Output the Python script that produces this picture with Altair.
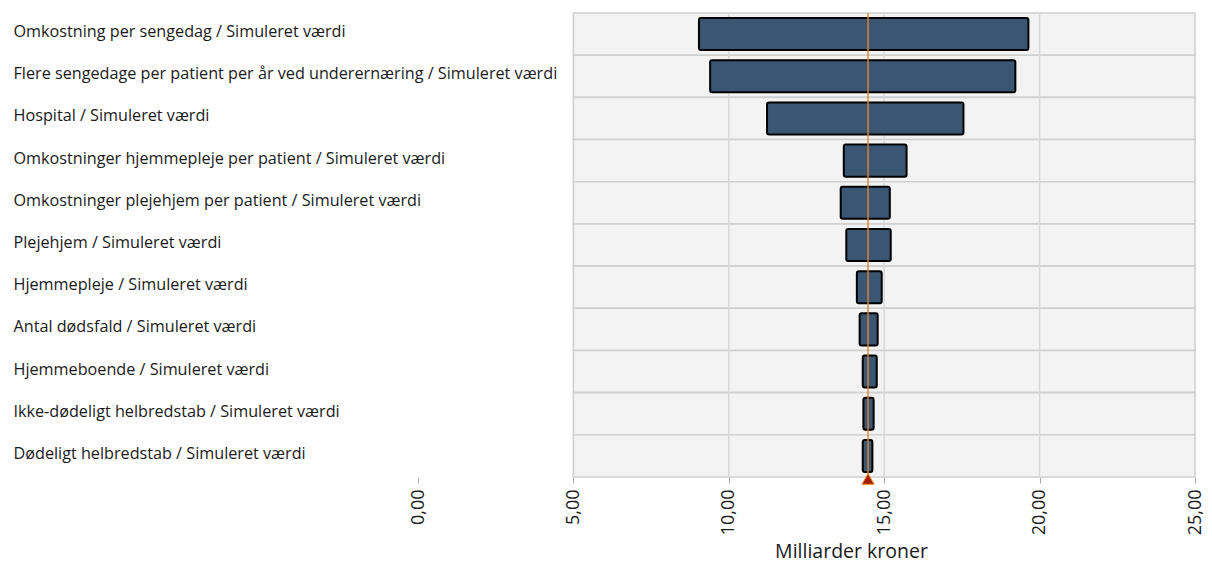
import altair as alt
import pandas as pd

categories = [
    "Omkostning per sengedag / Simuleret værdi",
    "Flere sengedage per patient per år ved underernæring / Simuleret værdi",
    "Hospital / Simuleret værdi",
    "Omkostninger hjemmepleje per patient / Simuleret værdi",
    "Omkostninger plejehjem per patient / Simuleret værdi",
    "Plejehjem / Simuleret værdi",
    "Hjemmepleje / Simuleret værdi",
    "Antal dødsfald / Simuleret værdi",
    "Hjemmeboende / Simuleret værdi",
    "Ikke-dødeligt helbredstab / Simuleret værdi",
    "Dødeligt helbredstab / Simuleret værdi",
]
low_values = [9.04, 9.40, 11.23, 13.70, 13.60, 13.78, 14.12, 14.21, 14.31, 14.33, 14.31]
high_values = [19.64, 19.22, 17.55, 15.72, 15.18, 15.21, 14.92, 14.79, 14.76, 14.66, 14.62]
base_value = 14.48
x_ticks = [0, 5, 10, 15, 20, 25]
grid_values = [10, 15, 20]
panel_range = [5, 25]

W, H = 777, 464

df = pd.DataFrame({"cat": categories, "low": low_values, "high": high_values})
grid_df = pd.DataFrame({"g": grid_values})

xscale = alt.Scale(domain=[x_ticks[0], x_ticks[-1]], nice=False, zero=False)

yenc = alt.Y(
    "cat:N",
    sort=categories,
    scale=alt.Scale(paddingInner=0, paddingOuter=0),
    title=None,
    axis=alt.Axis(
        labelAlign="left",
        labelPadding=405,
        labelLimit=700,
        labelFont="Open Sans",
        labelFontSize=16.2,
        labelColor="#1a1a1a",
        labelOffset=-2,
        ticks=False,
        domain=False,
        grid=False,
    ),
)

background = alt.Chart(df).mark_rect(
    fill="#f3f3f3", stroke="#d0d0d0", strokeWidth=1.6
).encode(
    y=yenc,
    x=alt.datum(panel_range[0], scale=xscale,
                axis=alt.Axis(
                    values=x_ticks,
                    labelExpr="replace(format(datum.value, '.2f'), '.', ',')",
                    labelAngle=-90,
                    labelFont="Open Sans",
                    labelFontSize=18,
                    labelColor="#1a1a1a",
                    labelPadding=6,
                    tickSize=6,
                    tickColor="#aaaaaa",
                    domain=False,
                    grid=False,
                    title="Milliarder kroner",
                    titleFont="Open Sans",
                    titleFontSize=19.5,
                    titleFontWeight="normal",
                    titleColor="#1a1a1a",
                    titleX=433,
                    titleY=80,
                    titleAlign="center",
                    titleBaseline="alphabetic",
                )),
    x2=alt.datum(panel_range[1]),
)

grid = alt.Chart(grid_df).mark_rule(color="#d8d8d8", strokeWidth=1.5).encode(
    x=alt.X("g:Q", scale=xscale)
)

bars = alt.Chart(df).mark_bar(
    height=alt.RelativeBandSize(0.76),
    fill="#3a5673",
    stroke="#000000",
    strokeWidth=2,
    cornerRadius=2,
).encode(
    y=alt.Y("cat:N", sort=categories),
    x=alt.X("low:Q", scale=xscale),
    x2="high:Q",
)

base_rule = alt.Chart(pd.DataFrame({"b": [base_value]})).mark_rule(
    color="#e0842a", strokeWidth=1.4, opacity=1
).encode(x=alt.X("b:Q", scale=xscale))

marker = alt.Chart(pd.DataFrame({"b": [base_value]})).mark_point(
    shape="triangle-up", filled=True, fill="#a3200a", stroke="#e8892a",
    strokeWidth=1, size=150, opacity=1,
).encode(x=alt.X("b:Q", scale=xscale), y=alt.value(H + 2))

chart = alt.layer(background, grid, bars, base_rule, marker).properties(
    width=W, height=H,
    padding={"left": 5, "top": 4, "right": 0, "bottom": 2},
).configure_view(stroke=None)

chart.save("out.html", embed_options={"renderer": "svg", "actions": False})
